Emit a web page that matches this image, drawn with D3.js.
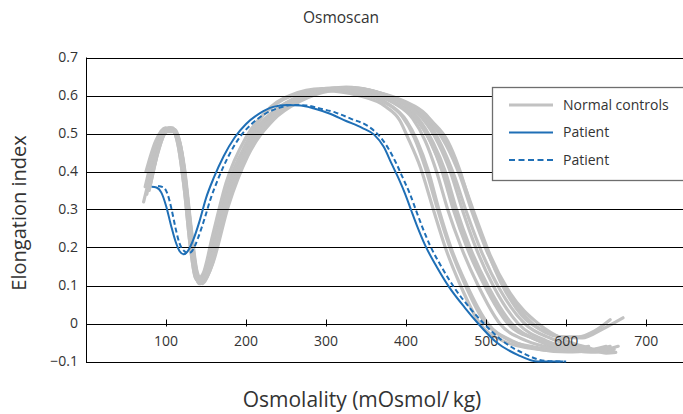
<!DOCTYPE html>
<html>
<head>
<meta charset="utf-8">
<script src="https://cdnjs.cloudflare.com/ajax/libs/d3/7.9.0/d3.min.js"></script>
<style>
  html, body { margin: 0; padding: 0; background: #fff; }
  svg { display: block; font-family: "Open Sans", "Noto Sans", sans-serif; }
</style>
</head>
<body>
<div id="grafico"></div>
<script>
// Osmoscan: elongation index vs osmolality

const TITULO = "Osmoscan";
const ROTULO_X = "Osmolality (mOsmol/\u2009kg)";
const ROTULO_Y = "Elongation index";

const TICKS_X = [100, 200, 300, 400, 500, 600, 700];
const TICKS_Y = [0.7, 0.6, 0.5, 0.4, 0.3, 0.2, 0.1, 0, -0.1];

const LEGENDA = ["Normal controls", "Patient", "Patient"];

// curvas dos controles normais, [osmolalidade, EI]
const CONTROLE_A = [[76,0.34],[86,0.44],[98,0.505],[107,0.51],[115,0.47],[123,0.35],[131,0.19],[138,0.115],[146,0.13],[158,0.23],[175,0.37],[200,0.49],[230,0.565],[262,0.602],[300,0.612],[340,0.60],[375,0.57],[392,0.535],[402,0.49],[418,0.41],[434,0.30],[449,0.20],[468,0.10],[492,0.0],[520,-0.045],[555,-0.065],[590,-0.072],[620,-0.065]];
const CONTROLE_B = [[78,0.37],[88,0.46],[100,0.51],[109,0.51],[117,0.46],[125,0.33],[133,0.18],[140,0.11],[148,0.13],[162,0.25],[180,0.38],[205,0.49],[235,0.56],[270,0.60],[305,0.615],[345,0.605],[380,0.575],[400,0.535],[414,0.48],[428,0.40],[441,0.30],[456,0.20],[476,0.10],[502,0.0],[532,-0.045],[567,-0.068],[602,-0.075],[635,-0.07]];
const CONTROLE_C = [[72,0.32],[84,0.42],[96,0.50],[106,0.515],[114,0.48],[122,0.37],[130,0.21],[137,0.12],[144,0.11],[155,0.17],[172,0.31],[195,0.45],[222,0.55],[255,0.60],[295,0.618],[335,0.61],[370,0.585],[395,0.545],[410,0.49],[424,0.41],[438,0.31],[453,0.21],[472,0.11],[496,0.01],[525,-0.04],[560,-0.062],[595,-0.07],[628,-0.06]];
const CONTROLE_D = [[80,0.39],[90,0.47],[101,0.51],[110,0.505],[118,0.45],[126,0.32],[134,0.17],[141,0.105],[150,0.12],[165,0.24],[185,0.38],[210,0.49],[240,0.56],[275,0.60],[315,0.62],[350,0.61],[385,0.58],[408,0.54],[424,0.48],[438,0.40],[452,0.30],[469,0.20],[490,0.10],[517,0.0],[550,-0.045],[585,-0.065],[618,-0.072],[650,-0.06]];
const CONTROLE_E = [[74,0.36],[85,0.45],[97,0.505],[108,0.515],[116,0.475],[124,0.36],[132,0.20],[139,0.115],[147,0.12],[160,0.21],[178,0.35],[202,0.47],[232,0.55],[268,0.60],[310,0.62],[348,0.612],[383,0.585],[410,0.545],[430,0.48],[445,0.40],[459,0.30],[476,0.20],[498,0.10],[527,0.0],[560,-0.04],[595,-0.06],[628,-0.07],[655,-0.06]];
const CONTROLE_F = [[82,0.40],[92,0.48],[103,0.515],[112,0.50],[120,0.43],[128,0.29],[136,0.15],[143,0.105],[152,0.13],[168,0.26],[190,0.40],[216,0.50],[248,0.565],[285,0.605],[325,0.622],[362,0.61],[398,0.585],[425,0.55],[440,0.51],[454,0.46],[470,0.38],[487,0.28],[505,0.18],[530,0.08],[565,0.0],[600,-0.045],[630,-0.065],[650,-0.078],[662,-0.076]];
const CONTROLE_G = [[77,0.38],[89,0.47],[100,0.51],[110,0.51],[119,0.45],[127,0.31],[135,0.16],[142,0.105],[151,0.125],[170,0.28],[193,0.42],[222,0.52],[255,0.575],[292,0.61],[330,0.62],[365,0.608],[398,0.58],[424,0.54],[444,0.47],[460,0.39],[476,0.29],[494,0.19],[517,0.09],[548,0.0],[582,-0.04],[615,-0.062],[642,-0.072],[660,-0.068]];
const CONTROLE_H = [[84,0.41],[94,0.49],[105,0.515],[114,0.495],[122,0.42],[130,0.27],[138,0.14],[145,0.105],[155,0.14],[175,0.30],[198,0.43],[228,0.53],[262,0.585],[300,0.615],[335,0.62],[370,0.605],[402,0.575],[428,0.535],[450,0.47],[467,0.39],[483,0.29],[501,0.19],[525,0.09],[558,0.0],[592,-0.035],[620,-0.038],[645,-0.015],[671,0.015]];
const CONTROLE_I = [[79,0.35],[90,0.45],[102,0.51],[111,0.51],[119,0.46],[127,0.33],[135,0.175],[142,0.11],[150,0.125],[166,0.25],[188,0.40],[212,0.50],[244,0.565],[280,0.605],[320,0.618],[356,0.605],[390,0.577],[415,0.54],[434,0.475],[449,0.40],[463,0.30],[480,0.20],[502,0.10],[532,0.0],[565,-0.045],[600,-0.068],[632,-0.075],[656,-0.07]];
const CONTROLE_J = [[86,0.42],[96,0.495],[106,0.51],[115,0.49],[123,0.41],[131,0.26],[139,0.135],[146,0.11],[157,0.15],[178,0.31],[202,0.44],[234,0.535],[268,0.585],[305,0.612],[340,0.618],[375,0.60],[408,0.57],[433,0.53],[452,0.48],[466,0.41],[481,0.31],[498,0.21],[518,0.11],[545,0.02],[572,-0.02],[596,-0.035],[615,-0.035],[635,-0.02],[655,0.01]];
const CONTROLE_K = [[75,0.40],[87,0.48],[99,0.515],[108,0.51],[117,0.46],[125,0.34],[133,0.19],[140,0.115],[149,0.125],[163,0.23],[183,0.37],[208,0.48],[238,0.555],[272,0.598],[312,0.615],[350,0.607],[386,0.58],[412,0.54],[430,0.48],[446,0.40],[460,0.30],[477,0.20],[499,0.10],[527,0.005],[560,-0.04],[596,-0.065],[630,-0.075],[650,-0.075]];
const CONTROLE_L = [[81,0.37],[91,0.46],[102,0.505],[111,0.505],[119,0.455],[127,0.32],[135,0.17],[142,0.11],[151,0.13],[169,0.27],[192,0.41],[219,0.51],[250,0.57],[288,0.607],[328,0.62],[362,0.607],[395,0.58],[420,0.54],[440,0.475],[456,0.395],[471,0.295],[488,0.195],[510,0.095],[540,0.0],[575,-0.045],[610,-0.065],[640,-0.07],[665,-0.06]];

const CONTROLES = [CONTROLE_A, CONTROLE_B, CONTROLE_C, CONTROLE_D, CONTROLE_E, CONTROLE_F,
                   CONTROLE_G, CONTROLE_H, CONTROLE_I, CONTROLE_J, CONTROLE_K, CONTROLE_L];

// paciente (duas medidas)
const PACIENTE_1 = [[82,0.36],[88,0.358],[94,0.345],[100,0.31],[106,0.26],[112,0.215],[117,0.19],[122,0.182],[127,0.19],[134,0.22],[142,0.27],[150,0.33],[160,0.385],[172,0.44],[186,0.49],[200,0.525],[217,0.553],[234,0.57],[251,0.575],[268,0.574],[285,0.566],[305,0.552],[325,0.533],[345,0.515],[360,0.497],[372,0.465],[382,0.42],[391,0.38],[399,0.34],[406,0.30],[414,0.255],[424,0.205],[438,0.15],[454,0.095],[474,0.04],[490,0.0],[512,-0.048],[540,-0.083],[565,-0.1],[596,-0.1]];
const PACIENTE_2 = [[90,0.362],[97,0.358],[102,0.34],[107,0.30],[112,0.25],[117,0.21],[123,0.19],[128,0.185],[133,0.192],[140,0.225],[148,0.275],[156,0.33],[166,0.385],[178,0.44],[192,0.49],[207,0.525],[224,0.552],[242,0.568],[258,0.575],[275,0.574],[292,0.566],[312,0.555],[332,0.538],[352,0.52],[366,0.495],[378,0.46],[388,0.42],[397,0.378],[405,0.34],[412,0.30],[420,0.255],[430,0.205],[444,0.15],[460,0.095],[480,0.04],[497,0.0],[520,-0.045],[548,-0.08],[573,-0.098],[600,-0.1]];

const COR_CONTROLE = "#c2c2c2";
const COR_PACIENTE = "#1f6fb6";
const COR_TEXTO = "#333333";

const LARGURA = 683, ALTURA = 414;

const svg = d3.select("#grafico").append("svg")
  .attr("width", LARGURA)
  .attr("height", ALTURA);

const x = d3.scaleLinear().domain([0, 746]).range([86, 683]);
const y = d3.scaleLinear().domain([-0.1, 0.7]).range([361.5, 57.5]);

const linha = d3.line()
  .x(d => x(d[0]))
  .y(d => y(d[1]))
  .curve(d3.curveMonotoneX);

// controles
svg.append("g")
  .selectAll("path")
  .data(CONTROLES)
  .join("path")
  .attr("d", linha)
  .attr("fill", "none")
  .attr("stroke", COR_CONTROLE)
  .attr("stroke-width", 3.2)
  .attr("stroke-linejoin", "round")
  .attr("stroke-linecap", "round");

// grade horizontal
svg.append("g")
  .selectAll("line")
  .data(TICKS_Y)
  .join("line")
  .attr("x1", x(0)).attr("x2", LARGURA)
  .attr("y1", d => Math.round(y(d)) + 0.5)
  .attr("y2", d => Math.round(y(d)) + 0.5)
  .attr("stroke", "#000")
  .attr("stroke-width", 1);

// eixo vertical
svg.append("line")
  .attr("x1", x(0) + 0.5).attr("x2", x(0) + 0.5)
  .attr("y1", y(0.7)).attr("y2", y(-0.1) + 1)
  .attr("stroke", "#000");

// rótulos eixo y
svg.append("g")
  .selectAll("text")
  .data(TICKS_Y)
  .join("text")
  .attr("x", 78)
  .attr("y", d => y(d))
  .attr("dy", "0.35em")
  .attr("text-anchor", "end")
  .attr("font-size", 14)
  .attr("fill", COR_TEXTO)
  .text(d => d3.format("")(d));

// ticks e rótulos eixo x
const gx = svg.append("g");
gx.selectAll("line")
  .data(TICKS_X)
  .join("line")
  .attr("x1", d => Math.round(x(d)) + 0.5)
  .attr("x2", d => Math.round(x(d)) + 0.5)
  .attr("y1", y(0) - 4)
  .attr("y2", y(0) + 3)
  .attr("stroke", "#000");
gx.selectAll("text")
  .data(TICKS_X)
  .join("text")
  .attr("x", d => x(d))
  .attr("y", y(0) + 22)
  .attr("text-anchor", "middle")
  .attr("font-size", 14)
  .attr("fill", COR_TEXTO)
  .text(d => d);

// pacientes
svg.append("path")
  .datum(PACIENTE_1)
  .attr("d", linha)
  .attr("fill", "none")
  .attr("stroke", COR_PACIENTE)
  .attr("stroke-width", 2);

svg.append("path")
  .datum(PACIENTE_2)
  .attr("d", linha)
  .attr("fill", "none")
  .attr("stroke", COR_PACIENTE)
  .attr("stroke-width", 2)
  .attr("stroke-dasharray", "5,3");

// legenda
const leg = svg.append("g").attr("transform", "translate(492,87)");
leg.append("rect")
  .attr("x", 0.5).attr("y", 0.5)
  .attr("width", 220).attr("height", 93)
  .attr("fill", "#fff")
  .attr("stroke", "#6e6e6e")
  .attr("stroke-width", 1.3);

const estilos = [
  { cor: COR_CONTROLE, w: 3.2, dash: null },
  { cor: COR_PACIENTE, w: 2.2, dash: null },
  { cor: COR_PACIENTE, w: 2.2, dash: "6,3.5" },
];

LEGENDA.forEach((txt, i) => {
  const yy = 18 + i * 27.5;
  leg.append("line")
    .attr("x1", 17).attr("x2", 61)
    .attr("y1", yy).attr("y2", yy)
    .attr("stroke", estilos[i].cor)
    .attr("stroke-width", estilos[i].w)
    .attr("stroke-dasharray", estilos[i].dash);
  leg.append("text")
    .attr("x", 71).attr("y", yy)
    .attr("dy", "0.35em")
    .attr("font-size", 14)
    .attr("fill", COR_TEXTO)
    .text(txt);
});

// títulos
svg.append("text")
  .attr("x", 341).attr("y", 18)
  .attr("dy", "0.35em")
  .attr("text-anchor", "middle")
  .attr("font-size", 15.5)
  .attr("fill", COR_TEXTO)
  .text(TITULO);

svg.append("text")
  .attr("transform", "translate(26,213) rotate(-90)")
  .attr("text-anchor", "middle")
  .attr("font-size", 20)
  .attr("fill", COR_TEXTO)
  .text(ROTULO_Y);

svg.append("text")
  .attr("x", 362).attr("y", 407)
  .attr("text-anchor", "middle")
  .attr("font-size", 21)
  .attr("fill", COR_TEXTO)
  .text(ROTULO_X);
</script>
</body>
</html>
